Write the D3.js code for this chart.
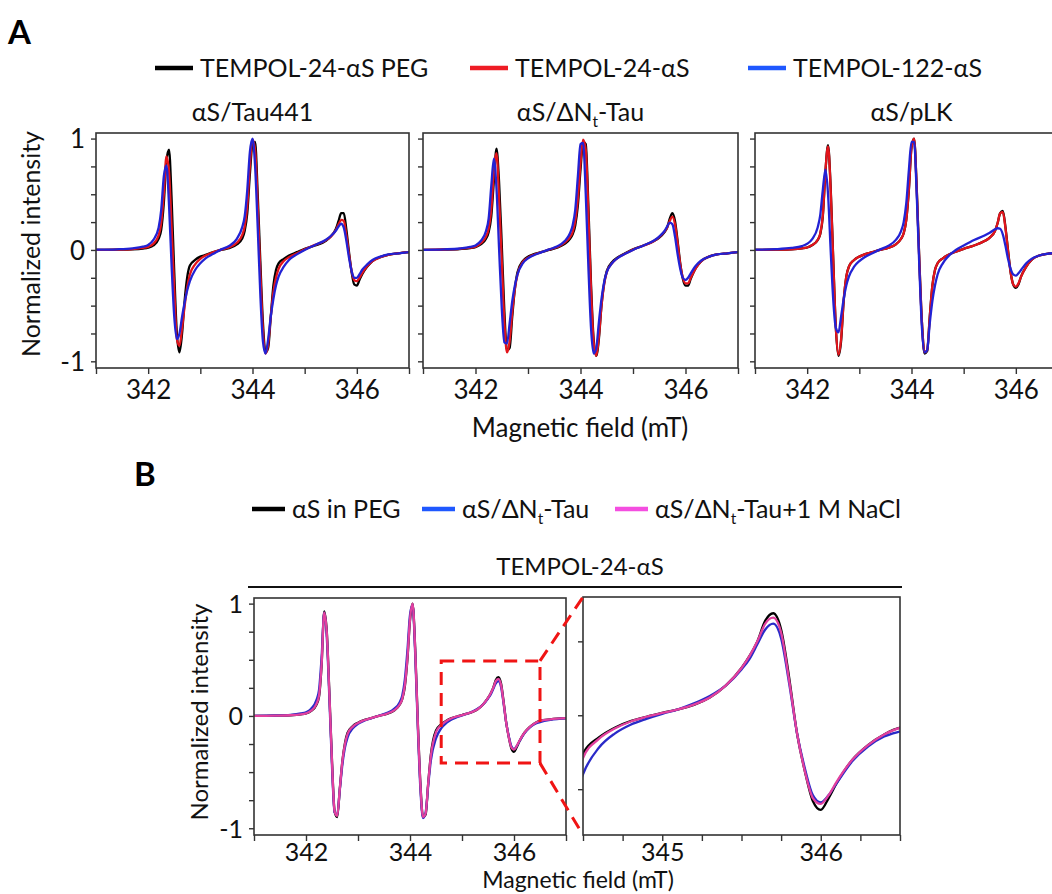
<!DOCTYPE html>
<html><head><meta charset="utf-8">
<script src="https://cdn.jsdelivr.net/npm/d3@7"></script>
<style>
body{margin:0;background:#fff;}
svg{display:block;font-family:Lato,"Open Sans",sans-serif;}
</style></head>
<body>
<svg id="c" width="1052" height="894"></svg>
<script>
// ---------- DATA ----------
const fieldA = [341.0,341.4,341.7,341.9,342.0,342.1,342.2,342.25,342.3,342.35,342.4,342.45,342.5,342.55,342.6,342.65,342.7,342.75,342.8,342.9,343.0,343.1,343.25,343.4,343.55,343.7,343.8,343.85,343.9,343.95,344.0,344.05,344.1,344.15,344.2,344.25,344.3,344.35,344.4,344.45,344.5,344.6,344.7,344.85,345.0,345.2,345.4,345.5,345.6,345.65,345.7,345.75,345.8,345.85,345.9,345.95,346.0,346.05,346.1,346.2,346.3,346.45,346.6,346.8,347.0];

// Panel A1: αS/Tau441
const tau441_24PEG = [0,0.002,0.005,0.012,0.02,0.04,0.1,0.18,0.42,0.8,0.9,0.45,-0.2,-0.75,-0.92,-0.75,-0.45,-0.24,-0.14,-0.09,-0.06,-0.045,-0.02,0.0,0.015,0.05,0.1,0.17,0.33,0.68,0.95,0.97,0.5,-0.1,-0.65,-0.92,-0.88,-0.6,-0.32,-0.18,-0.12,-0.08,-0.05,-0.02,0.01,0.04,0.08,0.12,0.19,0.26,0.33,0.33,0.18,-0.02,-0.2,-0.31,-0.32,-0.27,-0.22,-0.15,-0.1,-0.065,-0.045,-0.03,-0.02];
const tau441_24 = [0,0.003,0.008,0.018,0.028,0.055,0.13,0.24,0.5,0.84,0.7,0.2,-0.35,-0.8,-0.86,-0.7,-0.5,-0.33,-0.22,-0.13,-0.08,-0.05,-0.02,0.003,0.022,0.065,0.13,0.21,0.4,0.76,0.99,0.9,0.4,-0.2,-0.72,-0.93,-0.85,-0.6,-0.38,-0.25,-0.17,-0.1,-0.065,-0.03,0.005,0.045,0.085,0.12,0.18,0.23,0.27,0.26,0.13,-0.04,-0.19,-0.27,-0.28,-0.25,-0.21,-0.145,-0.1,-0.065,-0.045,-0.03,-0.02];
const tau441_122 = [0.002,0.006,0.015,0.03,0.045,0.09,0.2,0.36,0.66,0.76,0.4,-0.15,-0.6,-0.8,-0.75,-0.6,-0.47,-0.36,-0.28,-0.18,-0.12,-0.075,-0.035,0.005,0.035,0.1,0.2,0.3,0.54,0.88,1.0,0.75,0.2,-0.4,-0.82,-0.93,-0.8,-0.6,-0.44,-0.32,-0.24,-0.15,-0.09,-0.04,0.0,0.045,0.09,0.125,0.175,0.21,0.235,0.2,0.08,-0.07,-0.19,-0.25,-0.25,-0.22,-0.18,-0.13,-0.09,-0.06,-0.04,-0.03,-0.02];

// Panel A2: αS/ΔNt-Tau
const dNt_24PEG = [0,0.003,0.008,0.016,0.025,0.05,0.1,0.16,0.3,0.62,0.91,0.6,0.05,-0.55,-0.9,-0.88,-0.6,-0.35,-0.2,-0.1,-0.06,-0.04,-0.02,0.0,0.02,0.055,0.1,0.14,0.22,0.4,0.72,0.97,0.95,0.4,-0.3,-0.8,-0.95,-0.8,-0.5,-0.3,-0.19,-0.11,-0.07,-0.03,0.005,0.04,0.08,0.11,0.16,0.2,0.28,0.33,0.26,0.08,-0.12,-0.26,-0.32,-0.32,-0.26,-0.16,-0.1,-0.06,-0.04,-0.03,-0.02];
const dNt_24 = [0,0.004,0.01,0.02,0.03,0.06,0.12,0.19,0.36,0.7,0.87,0.45,-0.1,-0.65,-0.92,-0.82,-0.56,-0.35,-0.22,-0.11,-0.07,-0.045,-0.02,0.002,0.024,0.065,0.115,0.16,0.26,0.46,0.78,0.99,0.9,0.32,-0.35,-0.83,-0.95,-0.78,-0.5,-0.31,-0.2,-0.12,-0.075,-0.035,0.003,0.04,0.08,0.115,0.165,0.2,0.26,0.3,0.23,0.06,-0.13,-0.25,-0.3,-0.3,-0.25,-0.16,-0.1,-0.06,-0.04,-0.03,-0.02];
const dNt_122 = [0.001,0.005,0.013,0.027,0.04,0.08,0.17,0.28,0.57,0.82,0.55,0.0,-0.52,-0.83,-0.84,-0.66,-0.46,-0.32,-0.22,-0.12,-0.075,-0.05,-0.022,0.005,0.03,0.08,0.15,0.22,0.36,0.66,0.95,0.96,0.5,-0.15,-0.7,-0.93,-0.88,-0.65,-0.44,-0.29,-0.2,-0.12,-0.075,-0.035,0.0,0.04,0.085,0.12,0.17,0.21,0.245,0.23,0.12,-0.04,-0.17,-0.25,-0.27,-0.25,-0.21,-0.14,-0.095,-0.06,-0.04,-0.03,-0.02];

// Panel A3: αS/pLK
const pLK_24PEG = [0,0.002,0.006,0.014,0.022,0.044,0.088,0.14,0.3,0.7,0.94,0.57,-0.08,-0.7,-0.95,-0.82,-0.46,-0.24,-0.15,-0.09,-0.06,-0.04,-0.02,0.0,0.018,0.05,0.1,0.15,0.27,0.54,0.92,1.0,0.56,-0.09,-0.65,-0.93,-0.91,-0.6,-0.32,-0.18,-0.12,-0.075,-0.045,-0.015,0.01,0.04,0.08,0.11,0.17,0.24,0.33,0.35,0.21,0.0,-0.2,-0.31,-0.34,-0.31,-0.24,-0.15,-0.09,-0.05,-0.035,-0.025,-0.02];
const pLK_24 = [0,0.002,0.006,0.014,0.022,0.045,0.09,0.145,0.31,0.71,0.93,0.55,-0.1,-0.7,-0.94,-0.8,-0.45,-0.24,-0.15,-0.09,-0.06,-0.04,-0.02,0.0,0.018,0.05,0.1,0.15,0.27,0.55,0.92,1.0,0.55,-0.1,-0.65,-0.92,-0.9,-0.6,-0.32,-0.18,-0.12,-0.075,-0.045,-0.015,0.01,0.04,0.08,0.11,0.17,0.24,0.33,0.34,0.2,-0.01,-0.2,-0.31,-0.33,-0.3,-0.24,-0.15,-0.09,-0.05,-0.035,-0.025,-0.02];
const pLK_122 = [0.002,0.007,0.018,0.035,0.055,0.1,0.2,0.31,0.54,0.72,0.5,0.0,-0.45,-0.7,-0.74,-0.6,-0.44,-0.32,-0.24,-0.15,-0.1,-0.065,-0.03,0.005,0.035,0.09,0.17,0.25,0.42,0.72,0.97,0.97,0.5,-0.15,-0.7,-0.92,-0.9,-0.66,-0.46,-0.32,-0.22,-0.12,-0.06,0.0,0.04,0.09,0.13,0.155,0.185,0.195,0.19,0.14,0.04,-0.08,-0.17,-0.22,-0.23,-0.21,-0.18,-0.12,-0.08,-0.05,-0.035,-0.025,-0.02];

// Panel B: TEMPOL-24-αS
const fieldB = [341.0,341.4,341.7,341.9,342.0,342.1,342.2,342.25,342.3,342.35,342.4,342.45,342.5,342.55,342.6,342.65,342.7,342.75,342.8,342.9,343.0,343.1,343.25,343.4,343.55,343.7,343.8,343.85,343.9,343.95,344.0,344.05,344.1,344.15,344.2,344.25,344.3,344.35,344.4,344.5,344.6,344.7,344.8,344.9,345.0,345.1,345.2,345.3,345.4,345.5,345.55,345.6,345.65,345.7,345.75,345.8,345.85,345.9,345.95,346.0,346.05,346.1,346.2,346.3,346.4,346.5,346.7,347.0];
const bPEG = [0,0.002,0.006,0.014,0.022,0.045,0.1,0.17,0.45,0.93,0.75,0.2,-0.4,-0.85,-0.9,-0.65,-0.4,-0.24,-0.15,-0.09,-0.06,-0.04,-0.02,0.0,0.018,0.05,0.1,0.15,0.26,0.5,0.85,1.0,0.6,-0.05,-0.6,-0.9,-0.88,-0.6,-0.35,-0.13,-0.075,-0.042,-0.02,-0.005,0.008,0.02,0.035,0.06,0.1,0.16,0.2,0.25,0.32,0.345,0.29,0.13,-0.06,-0.19,-0.29,-0.32,-0.28,-0.23,-0.15,-0.1,-0.065,-0.042,-0.03,-0.02];
const bDNt = [0.001,0.004,0.01,0.022,0.033,0.065,0.14,0.23,0.52,0.92,0.7,0.15,-0.45,-0.86,-0.88,-0.66,-0.43,-0.28,-0.19,-0.11,-0.07,-0.046,-0.022,0.002,0.025,0.065,0.12,0.18,0.32,0.58,0.9,0.99,0.55,-0.1,-0.65,-0.91,-0.86,-0.62,-0.4,-0.2,-0.11,-0.062,-0.032,-0.012,0.005,0.02,0.04,0.065,0.1,0.155,0.19,0.24,0.29,0.31,0.26,0.11,-0.06,-0.18,-0.27,-0.295,-0.27,-0.23,-0.155,-0.105,-0.072,-0.055,-0.035,-0.022];
const bDNtNaCl = [0,0.002,0.006,0.014,0.023,0.047,0.105,0.18,0.46,0.92,0.74,0.19,-0.41,-0.85,-0.89,-0.65,-0.4,-0.25,-0.16,-0.095,-0.062,-0.041,-0.02,0.0,0.019,0.052,0.1,0.15,0.27,0.51,0.86,1.0,0.59,-0.06,-0.61,-0.9,-0.87,-0.6,-0.36,-0.145,-0.08,-0.045,-0.021,-0.005,0.008,0.02,0.036,0.06,0.1,0.16,0.2,0.25,0.31,0.33,0.28,0.12,-0.06,-0.19,-0.28,-0.3,-0.27,-0.225,-0.15,-0.1,-0.065,-0.043,-0.03,-0.02];

// Tick values / labels
const xTicksFull = [341,342,343,344,345,346,347];
const xLabelsFull = [342,344,346];
const yTicksFull = [-1,-0.75,-0.5,-0.25,0,0.25,0.5,0.75,1];
const yLabelsFull = [-1,0,1];
const xTicksZoom = [344.5,344.75,345,345.25,345.5,345.75,346,346.25,346.5];
const xLabelsZoom = [345,346];
const yTicksZoom = [-0.25,0,0.25];
const zoomBox = {x:[344.6,346.5], y:[-0.42,0.49]};

// ---------- DRAW ----------
const C = {black:"#000000", red:"#e3141b", blue:"#2222d4", blueB:"#2a2ac8", mag:"#e2409e",
  legRed:"#ee1c25", legBlue:"#1f58ff", legMag:"#f44ee0"};
const svg = d3.select("#c");
let clipId = 0;

function panel(o){
  const x = d3.scaleLinear().domain(o.xd).range([o.l,o.r]);
  const y = d3.scaleLinear().domain(o.yd).range([o.b,o.t]);
  const g = svg.append("g");
  const id = "clip"+(clipId++);
  svg.append("clipPath").attr("id",id).append("rect")
    .attr("x",o.l).attr("y",o.t).attr("width",o.r-o.l).attr("height",o.b-o.t);
  const line = d3.line().x(d=>x(d[0])).y(d=>y(d[1])).curve(d3.curveMonotoneX);
  const cg = g.append("g").attr("clip-path",`url(#${id})`);
  o.series.forEach(s=>{
    cg.append("path").datum(d3.zip(s.f,s.v)).attr("d",line)
      .attr("fill","none").attr("stroke",s.c).attr("stroke-width",2.3).attr("stroke-linejoin","round");
  });
  const fs = o.fs || 26;
  const fmt = d=>String(d);
  const xa = g.append("g").attr("transform",`translate(0,${o.b})`)
    .call(d3.axisBottom(x).tickValues(o.xt).tickSize(6).tickPadding(o.xpad||6)
      .tickFormat(d=>o.xl.some(v=>Math.abs(v-d)<1e-6)?fmt(d):""));
  const ya = g.append("g").attr("transform",`translate(${o.l},0)`)
    .call(d3.axisLeft(y).tickValues(o.yt).tickSize(5).tickPadding(6)
      .tickFormat(d=>o.yl.some(v=>Math.abs(v-d)<1e-6)?fmt(d):""));
  [xa,ya].forEach(a=>{
    a.select(".domain").remove();
    a.selectAll(".tick line").attr("stroke","#333").attr("stroke-width",1.4);
    a.selectAll(".tick text").attr("fill","#111").style("font-family","Lato").style("font-size",fs+"px");
  });
  ya.selectAll(".tick text").attr("dy","0.36em");
  xa.selectAll(".tick text").attr("dy",(o.xdy||0.74)+"em");
  g.append("rect").attr("x",o.l).attr("y",o.t).attr("width",o.r-o.l).attr("height",o.b-o.t)
    .attr("fill","none").attr("stroke","#333").attr("stroke-width",1.6);
  return {x,y,g};
}

function txt(x,y,s,size,anchor,weight){
  return svg.append("text").attr("x",x).attr("y",y).attr("text-anchor",anchor||"start")
    .style("font-size",size+"px").style("font-weight",weight||"normal").attr("fill","#111").text(s);
}
function subText(x,y,parts,size,anchor){
  const t = svg.append("text").attr("x",x).attr("y",y).attr("text-anchor",anchor||"start")
    .style("font-size",size+"px").attr("fill","#111");
  let shifted = false;
  parts.forEach(p=>{
    const ts = t.append("tspan").text(p.s);
    if(p.sub){ ts.attr("dy",size*0.25).style("font-size",(size*0.62)+"px"); shifted = true; }
    else if(shifted){ ts.attr("dy",-size*0.25); shifted = false; }
  });
  return t;
}

// Panel labels
txt(8,44,"A",33,"start","bold").attr("fill","#000");
txt(134,486,"B",33,"start","bold").attr("fill","#000");

// Legend A
const legA = [{c:C.black,l:"TEMPOL-24-\u03b1S PEG",x:155},{c:C.legRed,l:"TEMPOL-24-\u03b1S",x:470},{c:C.legBlue,l:"TEMPOL-122-\u03b1S",x:748}];
legA.forEach(d=>{
  svg.append("line").attr("x1",d.x).attr("x2",d.x+38).attr("y1",68).attr("y2",68).attr("stroke",d.c).attr("stroke-width",4.5);
  txt(d.x+45,77,d.l,25);
});

// A panels
const A = [
  {l:96,r:409,title:[{s:"\u03b1S/Tau441"}],f:fieldA,s:[tau441_24PEG,tau441_24,tau441_122],lab:true},
  {l:423,r:738,title:[{s:"\u03b1S/\u0394N"},{s:"t",sub:true},{s:"-Tau"}],f:fieldA,s:[dNt_24PEG,dNt_24,dNt_122],lab:false},
  {l:755,r:1068,title:[{s:"\u03b1S/pLK"}],f:fieldA,s:[pLK_24PEG,pLK_24,pLK_122],lab:false}
];
A.forEach(p=>{
  panel({l:p.l,r:p.r,t:133,b:368,xd:[341,347],yd:[-1.06,1.05],xt:xTicksFull,xl:xLabelsFull,yt:yTicksFull,yl:p.lab?yLabelsFull:[],
    series:[{f:p.f,v:p.s[0],c:C.black},{f:p.f,v:p.s[1],c:C.red},{f:p.f,v:p.s[2],c:C.blue}]});
  subText((p.l+p.r)/2,121,p.title,25,"middle");
});
txt(0,0,"Normalized intensity",25,"middle").attr("transform","translate(40,244) rotate(-90)");
txt(580,437,"Magnetic field (mT)",26,"middle");

// Legend B
const legB = [{c:C.black,p:[{s:"\u03b1S in PEG"}],x:252},{c:C.legBlue,p:[{s:"\u03b1S/\u0394N"},{s:"t",sub:true},{s:"-Tau"}],x:422},{c:C.legMag,p:[{s:"\u03b1S/\u0394N"},{s:"t",sub:true},{s:"-Tau+1 M NaCl"}],x:615}];
legB.forEach(d=>{
  svg.append("line").attr("x1",d.x).attr("x2",d.x+33).attr("y1",509).attr("y2",509).attr("stroke",d.c).attr("stroke-width",4.5);
  subText(d.x+40,518,d.p,25);
});
txt(580,575,"TEMPOL-24-\u03b1S",24,"middle");
svg.append("line").attr("x1",248).attr("x2",902).attr("y1",587).attr("y2",587).attr("stroke","#111").attr("stroke-width",2);

const seriesB = [{f:fieldB,v:bPEG,c:C.black},{f:fieldB,v:bDNt,c:C.blueB},{f:fieldB,v:bDNtNaCl,c:C.mag}];
const PL = panel({l:254,r:566,t:598,b:835,xd:[341,347],yd:[-1.06,1.05],xt:xTicksFull,xl:xLabelsFull,yt:yTicksFull,yl:yLabelsFull,series:seriesB,fs:25,xdy:0.62,xpad:4});
const PZ = panel({l:583,r:900,t:597,b:835,xd:[344.5,346.5],yd:[-0.405,0.4],xt:xTicksZoom,xl:xLabelsZoom,yt:yTicksZoom,yl:[],series:seriesB,fs:25,xdy:0.62,xpad:4});

// dashed zoom box and connectors
const bx0 = PL.x(zoomBox.x[0]), bx1 = PL.x(zoomBox.x[1]), by0 = PL.y(zoomBox.y[1]), by1 = PL.y(zoomBox.y[0]);
const dash = {stroke:"#f01414","stroke-width":3,"stroke-dasharray":"13,8",fill:"none"};
const box = svg.append("rect").attr("x",bx0).attr("y",by0).attr("width",bx1-bx0).attr("height",by1-by0);
const c1 = svg.append("line").attr("x1",bx1).attr("y1",by0).attr("x2",PZ.x(344.5)).attr("y2",PZ.y(0.4));
const c2 = svg.append("line").attr("x1",bx1).attr("y1",by1).attr("x2",PZ.x(344.5)).attr("y2",PZ.y(-0.405));
[box,c1,c2].forEach(e=>Object.entries(dash).forEach(([k,v])=>e.attr(k,v)));

txt(0,0,"Normalized intensity",24,"middle").attr("transform","translate(208,712) rotate(-90)");
txt(578,888,"Magnetic field (mT)",23,"middle");
</script>
</body></html>
